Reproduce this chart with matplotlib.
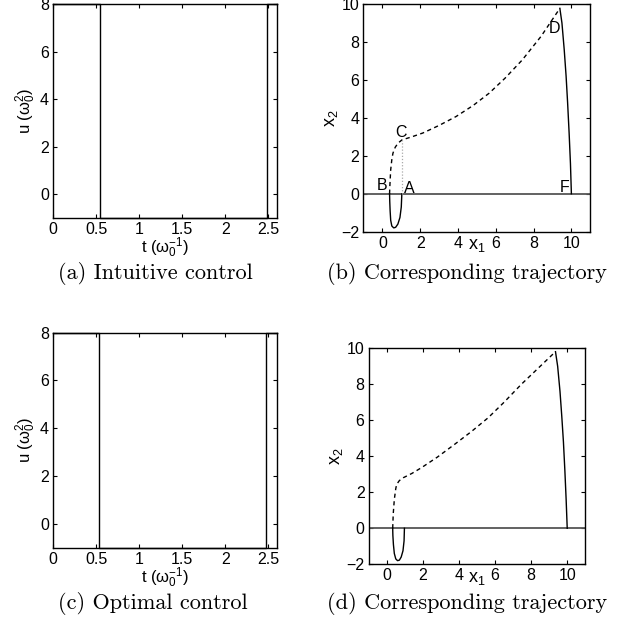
import matplotlib
matplotlib.use("Agg")
import matplotlib.pyplot as plt

plt.rcParams['font.family'] = ['Liberation Sans', 'DejaVu Sans']
plt.rcParams['mathtext.fontset'] = 'custom'
plt.rcParams['mathtext.rm'] = 'Liberation Sans'
plt.rcParams['mathtext.it'] = 'Liberation Sans'
plt.rcParams['mathtext.default'] = 'regular'

# ---- data ----
# control switching times (bang-bang control), levels
t_final = 2.6
t_switch_a = [0.55, 2.48]
t_switch_c = [0.535, 2.47]
u_levels = [8, -1, 8]

# trajectory (b): loop A->B (solid), B->C->D (dashed), D->F (solid)
loop_b_x1 = [1.03, 1.0, 0.93, 0.82, 0.7, 0.6, 0.5, 0.44, 0.41, 0.39, 0.38]
loop_b_x2 = [0.0, -0.7, -1.25, -1.6, -1.77, -1.8, -1.7, -1.4, -0.9, -0.4, 0.0]
dash_b_x1 = [0.38, 0.40, 0.44, 0.50, 0.56, 0.68, 0.83, 1.04, 1.5, 2.14, 3.0, 3.9, 4.8, 5.65, 6.5, 7.4, 8.4, 9.39]
dash_b_x2 = [0.0, 0.5, 1.26, 1.8, 2.14, 2.45, 2.67, 2.84, 2.98, 3.2, 3.6, 4.07, 4.65, 5.3, 6.1, 7.05, 8.3, 9.77]
final_b_x1 = [9.39, 9.5, 9.62, 9.72, 9.8, 9.88, 9.95, 10.0]
final_b_x2 = [9.77, 9.0, 7.6, 6.2, 4.8, 3.2, 1.6, 0.0]
guide_b_x1 = [1.03, 1.03]
guide_b_x2 = [0.0, 2.84]
labels_b = ['A', 'B', 'C', 'D', 'F']
labels_b_x1 = [1.4, 0.0, 1.0, 9.1, 9.65]
labels_b_x2 = [0.3, 0.45, 3.25, 8.7, 0.35]

# trajectory (d)
loop_d_x1 = [0.98, 0.96, 0.9, 0.8, 0.7, 0.6, 0.5, 0.42, 0.37, 0.34, 0.33]
loop_d_x2 = [0.0, -0.7, -1.25, -1.6, -1.77, -1.8, -1.7, -1.4, -0.9, -0.4, 0.0]
dash_d_x1 = [0.33, 0.36, 0.42, 0.5, 0.55, 0.7, 0.92, 1.4, 1.93, 2.8, 3.77, 4.7, 5.62, 6.5, 7.46, 8.4, 9.35]
dash_d_x2 = [0.0, 0.8, 1.6, 2.2, 2.44, 2.65, 2.81, 3.05, 3.37, 3.95, 4.67, 5.38, 6.14, 7.0, 8.0, 8.9, 9.81]
final_d_x1 = [9.35, 9.47, 9.6, 9.7, 9.79, 9.87, 9.94, 10.0]
final_d_x2 = [9.81, 9.0, 7.6, 6.2, 4.8, 3.2, 1.6, 0.0]

captions = ['(a) Intuitive control', '(b) Corresponding trajectory',
            '(c) Optimal control', '(d) Corresponding trajectory']

fig = plt.figure(figsize=(6.44, 6.22), dpi=100)

ax_a = fig.add_axes([0.0823, 0.6495, 0.3478, 0.3441])
ax_b = fig.add_axes([0.5644, 0.6275, 0.3522, 0.3661])
ax_c = fig.add_axes([0.0823, 0.1195, 0.3478, 0.3457])
ax_d = fig.add_axes([0.5725, 0.0928, 0.3363, 0.3473])

TICKFS = 11.5
LABFS = 12


def style(ax):
    ax.tick_params(direction='in', top=True, right=True, labelsize=TICKFS,
                   length=3, width=0.8, pad=3)
    for s in ax.spines.values():
        s.set_linewidth(1.0)


def control(ax, ts):
    t = [0, ts[0], ts[0], ts[1], ts[1], t_final]
    u = [u_levels[0], u_levels[0], u_levels[1], u_levels[1], u_levels[2], u_levels[2]]
    ax.plot(t, u, color='black', lw=1.0, clip_on=False)
    ax.set_xlim(0, t_final)
    ax.set_ylim(-1, 8)
    ax.set_xticks([0, 0.5, 1, 1.5, 2, 2.5])
    ax.set_xticklabels(['0', '0.5', '1', '1.5', '2', '2.5'])
    ax.set_yticks([0, 2, 4, 6, 8])
    ax.set_xlabel(r't ($\omega_0^{-1}$)', fontsize=LABFS, labelpad=-1)
    ax.set_ylabel(r'u ($\omega_0^{2}$)', fontsize=LABFS, labelpad=1)
    style(ax)


def traj(ax, lx, ly, dx, dy, fx, fy):
    ax.axhline(0, color='#555555', lw=1.3)
    ax.plot(lx, ly, color='black', lw=1.0)
    ax.plot(dx, dy, color='black', lw=1.0, ls=(0, (3, 2.5)))
    ax.plot(fx, fy, color='black', lw=1.0)
    ax.set_xlim(-1, 11)
    ax.set_ylim(-2, 10)
    ax.set_xticks([0, 2, 4, 6, 8, 10])
    ax.set_yticks([-2, 0, 2, 4, 6, 8, 10])
    ax.set_xlabel(r'x$_1$', fontsize=LABFS + 1, labelpad=-10)
    ax.set_ylabel(r'x$_2$', fontsize=LABFS + 1, labelpad=1)
    style(ax)


control(ax_a, t_switch_a)
control(ax_c, t_switch_c)

traj(ax_b, loop_b_x1, loop_b_x2, dash_b_x1, dash_b_x2, final_b_x1, final_b_x2)
ax_b.plot(guide_b_x1, guide_b_x2, color='#aaaaaa', lw=0.9, ls=(0, (1, 1.5)))
for lab, x, y in zip(labels_b, labels_b_x1, labels_b_x2):
    ax_b.text(x, y, lab, fontsize=11.5, ha='center', va='center')

traj(ax_d, loop_d_x1, loop_d_x2, dash_d_x1, dash_d_x2, final_d_x1, final_d_x2)

cap_pos = [(0.2407, 0.561), (0.725, 0.561), (0.2376, 0.029), (0.725, 0.029)]
for cap, (x, y) in zip(captions, cap_pos):
    fig.text(x, y, cap, fontsize=16, family='cmr10', ha='center', va='center')

fig.savefig('out.png', dpi=100)
